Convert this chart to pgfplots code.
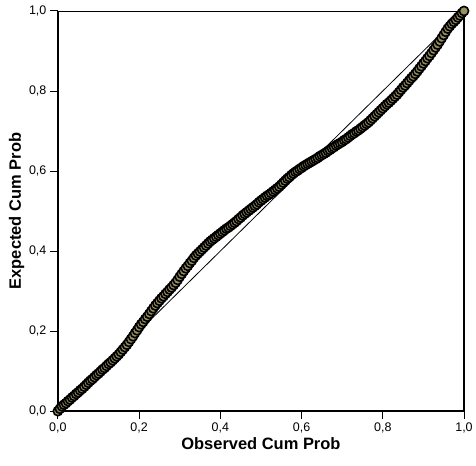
\documentclass[border=0pt]{standalone}
\usepackage{pgfplots}
\pgfplotsset{compat=1.18}
\usepackage{pgfplotstable}
\usepackage{fontspec}
\setmainfont{Liberation Sans}

\definecolor{markfill}{RGB}{150,143,95}

\pgfplotstableread{
obs exp
0.000 0.000
0.005 0.006
0.010 0.012
0.015 0.016
0.020 0.020
0.025 0.025
0.030 0.029
0.035 0.034
0.040 0.038
0.045 0.043
0.050 0.047
0.055 0.052
0.060 0.056
0.065 0.061
0.070 0.066
0.075 0.071
0.080 0.076
0.085 0.080
0.090 0.085
0.095 0.090
0.100 0.094
0.105 0.099
0.110 0.104
0.115 0.108
0.120 0.113
0.125 0.118
0.130 0.122
0.135 0.127
0.140 0.132
0.145 0.137
0.150 0.142
0.155 0.148
0.160 0.154
0.165 0.160
0.170 0.166
0.175 0.173
0.180 0.180
0.185 0.187
0.190 0.195
0.195 0.202
0.200 0.210
0.205 0.217
0.210 0.223
0.215 0.230
0.220 0.236
0.225 0.243
0.230 0.250
0.235 0.257
0.240 0.264
0.245 0.270
0.250 0.276
0.255 0.282
0.260 0.287
0.265 0.293
0.270 0.298
0.275 0.304
0.280 0.309
0.285 0.315
0.290 0.321
0.295 0.328
0.300 0.336
0.305 0.343
0.310 0.350
0.315 0.357
0.320 0.363
0.325 0.370
0.330 0.376
0.335 0.383
0.340 0.389
0.345 0.394
0.350 0.399
0.355 0.404
0.360 0.409
0.365 0.414
0.370 0.419
0.375 0.424
0.380 0.428
0.385 0.432
0.390 0.436
0.395 0.440
0.400 0.444
0.405 0.448
0.410 0.452
0.415 0.456
0.420 0.459
0.425 0.463
0.430 0.467
0.435 0.471
0.440 0.475
0.445 0.480
0.450 0.484
0.455 0.489
0.460 0.493
0.465 0.497
0.470 0.501
0.475 0.505
0.480 0.509
0.485 0.513
0.490 0.517
0.495 0.522
0.500 0.526
0.505 0.530
0.510 0.534
0.515 0.538
0.520 0.541
0.525 0.545
0.530 0.549
0.535 0.553
0.540 0.557
0.545 0.561
0.550 0.566
0.555 0.571
0.560 0.576
0.565 0.581
0.570 0.585
0.575 0.590
0.580 0.594
0.585 0.598
0.590 0.601
0.595 0.605
0.600 0.608
0.605 0.612
0.610 0.615
0.615 0.618
0.620 0.621
0.625 0.624
0.630 0.627
0.635 0.630
0.640 0.633
0.645 0.637
0.650 0.640
0.655 0.643
0.660 0.646
0.665 0.650
0.670 0.653
0.675 0.657
0.680 0.660
0.685 0.664
0.690 0.667
0.695 0.670
0.700 0.673
0.705 0.677
0.710 0.680
0.715 0.684
0.720 0.688
0.725 0.692
0.730 0.695
0.735 0.699
0.740 0.702
0.745 0.706
0.750 0.710
0.755 0.714
0.760 0.718
0.765 0.722
0.770 0.727
0.775 0.732
0.780 0.737
0.785 0.742
0.790 0.747
0.795 0.752
0.800 0.757
0.805 0.762
0.810 0.767
0.815 0.771
0.820 0.776
0.825 0.781
0.830 0.786
0.835 0.791
0.840 0.797
0.845 0.803
0.850 0.809
0.855 0.814
0.860 0.820
0.865 0.826
0.870 0.832
0.875 0.837
0.880 0.843
0.885 0.849
0.890 0.856
0.895 0.862
0.900 0.869
0.905 0.875
0.910 0.882
0.915 0.888
0.920 0.895
0.925 0.902
0.930 0.909
0.935 0.916
0.940 0.924
0.945 0.932
0.950 0.940
0.955 0.948
0.960 0.956
0.965 0.962
0.970 0.968
0.975 0.973
0.980 0.978
0.985 0.984
0.990 0.989
0.995 0.995
1.000 1.000
}\pptable

\begin{document}
\begin{tikzpicture}
\begin{axis}[
    name=ax,
    scale only axis,
    width=407pt, height=401pt,
    xmin=0, xmax=1, ymin=0, ymax=1,
    xtick={0,0.2,0.4,0.6,0.8,1},
    ytick={0,0.2,0.4,0.6,0.8,1},
    xtick pos=left, ytick pos=left,
    tick align=outside,
    major tick length=8pt,
    tick style={line width=1pt, black},
    axis line style={line width=0.8pt},
    /pgf/number format/.cd, use comma, fixed, fixed zerofill, precision=1, assume math mode=true,
    /pgfplots/.cd,
    tick label style={font=\fontsize{12.5}{14}\selectfont},
    xlabel={Observed Cum Prob},
    ylabel={Expected Cum Prob},
    label style={font=\fontsize{16.5}{18}\selectfont\bfseries},
    xlabel style={yshift=2pt},
    ylabel style={yshift=-2pt},
    clip=false,
]
% diagonal reference line
\addplot[black, line width=0.8pt] coordinates {(0,0) (1,1)};

\addplot[only marks, mark=*, mark size=4.6pt,
    mark options={draw=black, fill=markfill, line width=1.6pt}]
    table[x=obs, y=exp] {\pptable};

% heavier left, bottom and right frame lines
\draw[line width=1.6pt] (rel axis cs:0,1) -- (rel axis cs:0,0) -- (rel axis cs:1,0) -- (rel axis cs:1,1);
\end{axis}
\path ([shift={(-58pt,-54pt)}]ax.south west) rectangle ([shift={(11pt,11pt)}]ax.north east);
\end{tikzpicture}
\end{document}
